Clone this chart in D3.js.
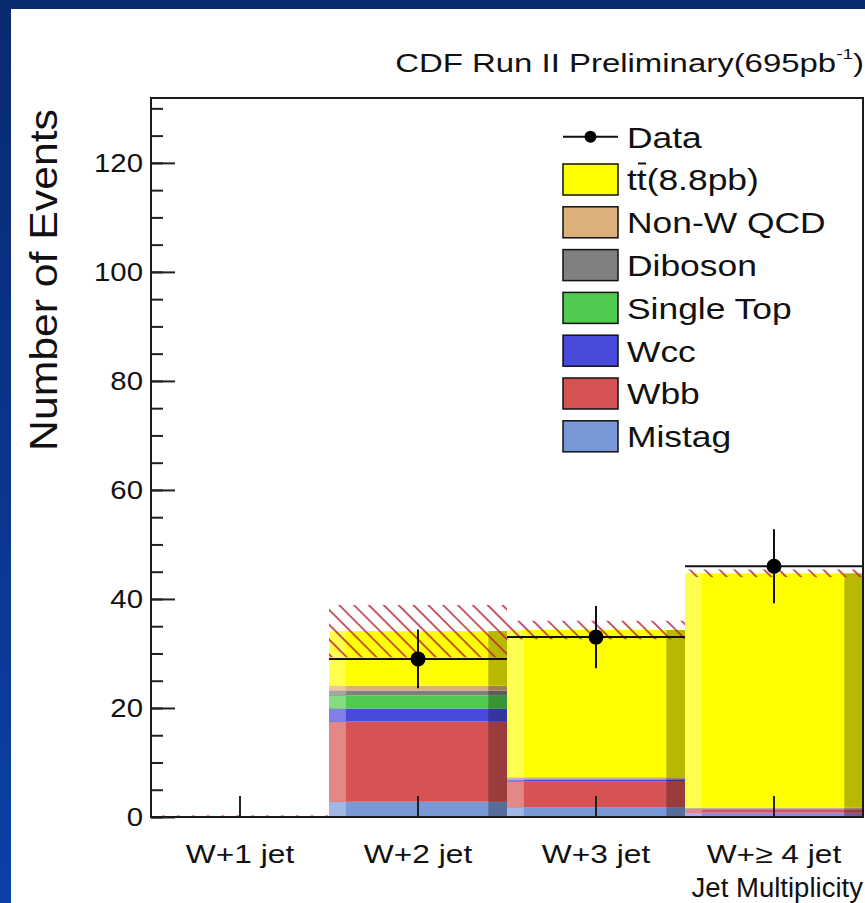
<!DOCTYPE html>
<html>
<head>
<meta charset="utf-8">
<script src="https://cdn.jsdelivr.net/npm/d3@7"></script>
<style>
  html, body { margin: 0; padding: 0; }
  svg { display: block; }
  text { font-family: "Liberation Sans", Arial, Helvetica, sans-serif; fill: #111; }
</style>
</head>
<body>
<svg id="chart" width="865" height="903"></svg>
<script>
// Expected events per jet-multiplicity bin, by process (stacked bottom to top)
const categories = ["W+1 jet", "W+2 jet", "W+3 jet", "W+\u2265 4 jet"];
const mistag     = [0, 2.8, 1.8, 0.8];
const wbb        = [0, 14.7, 4.7, 0.5];
const wcc        = [0, 2.4, 0.3, 0.1];
const singleTop  = [0, 2.4, 0.2, 0.1];
const diboson    = [0, 0.9, 0.1, 0.1];
const nonWQCD    = [0, 0.9, 0.2, 0.1];
const ttbar      = [0, 10.0, 27.0, 43.0];
// Uncertainty on the total prediction (hatched band)
const predErr    = [0.3, 4.8, 1.7, 0.7];
// Observed events and their errors
const dataCounts = [0, 29, 33, 46];
const dataErr    = [0, 5.4, 5.7, 6.8];
const yMajorTicks = [0, 20, 40, 60, 80, 100, 120];
const yMinorTicks = [0, 5, 10, 15, 20, 25, 30, 35, 40, 45, 50, 55, 60, 65, 70, 75, 80, 85, 90, 95, 100, 105, 110, 115, 120, 125, 130];

const seriesKeys   = ["mistag", "wbb", "wcc", "singleTop", "diboson", "nonWQCD", "ttbar"];
const seriesLabels = ["Mistag", "Wbb", "Wcc", "Single Top", "Diboson", "Non-W QCD", "tt(8.8pb)"];
const seriesColors = ["#7898d8", "#d75353", "#4a4adc", "#4fcc4f", "#808080", "#dcb07c", "#ffff00"];
const seriesValues = [mistag, wbb, wcc, singleTop, diboson, nonWQCD, ttbar];

const table = categories.map((c, i) => {
  const row = { cat: c };
  seriesKeys.forEach((k, j) => { row[k] = seriesValues[j][i]; });
  row.total = seriesKeys.reduce((s, k) => s + row[k], 0);
  return row;
});

const W = 865, H = 903;
const frame = { left: 151, right: 863, top: 98, bottom: 817 };
const svg = d3.select("#chart");
const defs = svg.append("defs");

// Page background: blue slide with white panel
const grad = defs.append("linearGradient").attr("id", "bg").attr("x1", 0).attr("y1", 0).attr("x2", 0).attr("y2", 1);
grad.append("stop").attr("offset", "0%").attr("stop-color", "#082a70");
grad.append("stop").attr("offset", "100%").attr("stop-color", "#0c40a8");
svg.append("rect").attr("width", W).attr("height", H).attr("fill", "url(#bg)");
svg.append("rect").attr("x", 11).attr("y", 9).attr("width", W - 11).attr("height", H - 9).attr("fill", "#fff");

// Hatch pattern for the prediction uncertainty
defs.append("pattern").attr("id", "hatch").attr("patternUnits", "userSpaceOnUse")
  .attr("width", 10.5).attr("height", 10.5).attr("patternTransform", "rotate(-45)")
  .append("line").attr("x1", 1).attr("y1", 0).attr("x2", 1).attr("y2", 10.5)
  .attr("stroke", "#b82236").attr("stroke-width", 1.5);

defs.append("clipPath").attr("id", "plotclip").append("rect")
  .attr("x", frame.left).attr("y", frame.top)
  .attr("width", frame.right - frame.left).attr("height", frame.bottom - frame.top);

const x = d3.scaleBand().domain(categories).range([frame.left, frame.right]).padding(0);
const y = d3.scaleLinear().domain([0, 131.9]).range([frame.bottom, frame.top]);
const bw = x.bandwidth();

const plot = svg.append("g").attr("clip-path", "url(#plotclip)");

// Stacked bars with light left edge and dark right edge
const stacked = d3.stack().keys(seriesKeys)(table);
const lightW = bw * 0.095, darkW = bw * 0.105;
stacked.forEach((layer, j) => {
  const base = seriesColors[j];
  const light = d3.interpolateRgb(base, "#ffffff")(0.3);
  const dark = d3.interpolateRgb(base, "#000000")(0.28);
  const g = plot.append("g").attr("class", "layer-" + seriesKeys[j]);
  layer.forEach(d => {
    const h = y(d[0]) - y(d[1]);
    if (h <= 0) return;
    const x0 = x(d.data.cat);
    g.append("rect").attr("x", x0).attr("y", y(d[1])).attr("width", bw).attr("height", h).attr("fill", base);
    g.append("rect").attr("x", x0).attr("y", y(d[1])).attr("width", lightW).attr("height", h).attr("fill", light);
    g.append("rect").attr("x", x0 + bw - darkW).attr("y", y(d[1])).attr("width", darkW).attr("height", h).attr("fill", dark);
  });
});

// Uncertainty band on the total prediction
plot.append("g").selectAll("rect").data(table).join("rect")
  .attr("x", d => x(d.cat))
  .attr("y", (d, i) => y(d.total + predErr[i]))
  .attr("width", bw)
  .attr("height", (d, i) => y(d.total - predErr[i]) - y(d.total + predErr[i]))
  .attr("fill", "url(#hatch)");

// Data: horizontal bin line, vertical error bar, filled marker
const dataG = plot.append("g");
categories.forEach((c, i) => {
  if (dataCounts[i] <= 0) return;
  const cx = x(c) + bw / 2, cy = y(dataCounts[i]);
  dataG.append("line").attr("x1", x(c)).attr("x2", x(c) + bw).attr("y1", cy).attr("y2", cy)
    .attr("stroke", "#111").attr("stroke-width", 2);
  dataG.append("line").attr("x1", cx).attr("x2", cx)
    .attr("y1", y(dataCounts[i] - dataErr[i])).attr("y2", y(dataCounts[i] + dataErr[i]))
    .attr("stroke", "#111").attr("stroke-width", 2);
  dataG.append("circle").attr("cx", cx).attr("cy", cy).attr("r", 7.5).attr("fill", "#000");
});

// Axes
const SX = 1.15;
const yMinor = d3.axisLeft(y).tickValues(yMinorTicks).tickSizeInner(-12).tickSizeOuter(0).tickFormat("");
const yMajor = d3.axisLeft(y).tickValues(yMajorTicks).tickSizeInner(-24).tickSizeOuter(0).tickPadding(7);
const gyMin = svg.append("g").attr("transform", `translate(${frame.left},0)`).call(yMinor);
const gyMaj = svg.append("g").attr("transform", `translate(${frame.left},0)`).call(yMajor);
[gyMin, gyMaj].forEach(g => {
  g.select(".domain").remove();
  g.selectAll(".tick line").attr("stroke", "#222").attr("stroke-width", 2);
});
gyMaj.selectAll(".tick text").attr("font-size", 25.5).attr("fill", "#111")
  .attr("transform", `scale(${SX},1)`);

const xAxis = d3.axisBottom(x).tickSizeInner(-21).tickSizeOuter(0).tickPadding(28);
const gx = svg.append("g").attr("transform", `translate(0,${frame.bottom})`).call(xAxis);
gx.select(".domain").remove();
gx.selectAll(".tick line").attr("stroke", "#222").attr("stroke-width", 2);
gx.selectAll(".tick text").attr("font-size", 26).attr("fill", "#111")
  .attr("transform", `scale(1.22,1)`);

// Frame
svg.append("rect").attr("x", frame.left).attr("y", frame.top)
  .attr("width", frame.right - frame.left).attr("height", frame.bottom - frame.top)
  .attr("fill", "none").attr("stroke", "#1a1a1a").attr("stroke-width", 2);

// Text helper: place text at (px, py) and stretch horizontally to a target width
function fitText(sel, px, py, targetW) {
  const w = sel.node().getBBox().width;
  sel.attr("transform", `translate(${px},${py}) scale(${targetW / w},1)`);
}

// Title
const title = svg.append("text").attr("font-size", 26).attr("text-anchor", "end");
title.append("tspan").text("CDF Run II Preliminary(695pb");
title.append("tspan").attr("font-size", 15).attr("dy", -13).text("-1");
title.append("tspan").attr("dy", 13).text(")");
fitText(title, 864, 72, 469);

// Axis titles
const yTitle = svg.append("text").attr("font-size", 38).attr("text-anchor", "middle").text("Number of Events");
{
  const w = yTitle.node().getBBox().width;
  yTitle.attr("transform", `translate(57,280) rotate(-90) scale(${342 / w},1)`);
}
const xTitle = svg.append("text").attr("font-size", 27).attr("text-anchor", "end").text("Jet Multiplicity");
fitText(xTitle, 863, 897, 172);

// Legend
const legend = svg.append("g");
const legX = 563, legBoxW = 55, legBoxH = 31, legTop = 136.7, legStep = 42.8;
legend.append("line").attr("x1", legX).attr("x2", legX + legBoxW).attr("y1", legTop).attr("y2", legTop)
  .attr("stroke", "#111").attr("stroke-width", 2);
legend.append("circle").attr("cx", legX + legBoxW / 2).attr("cy", legTop).attr("r", 6).attr("fill", "#000");
const dataLab = legend.append("text").attr("font-size", 30).text("Data");
dataLab.attr("transform", `translate(627,${legTop + 10.8}) scale(1.18,1)`);

const legOrder = d3.range(seriesKeys.length).reverse();
legOrder.forEach((j, r) => {
  const cy = legTop + legStep * (r + 1);
  legend.append("rect").attr("x", legX).attr("y", cy - legBoxH / 2).attr("width", legBoxW).attr("height", legBoxH)
    .attr("fill", seriesColors[j]).attr("stroke", "#111").attr("stroke-width", 1.5);
  const t = legend.append("text").attr("font-size", 30).text(seriesLabels[j]);
  t.attr("transform", `translate(627,${cy + 10.8}) scale(1.18,1)`);
  if (seriesKeys[j] === "ttbar") {
    // bar over the second t (anti-top)
    const n = t.node();
    const x0 = n.getSubStringLength(0, 1), w1 = n.getSubStringLength(1, 1);
    legend.append("line")
      .attr("x1", 627 + (x0 + 1) * 1.18).attr("x2", 627 + (x0 + w1 - 0.5) * 1.18)
      .attr("y1", cy - 16).attr("y2", cy - 16)
      .attr("stroke", "#111").attr("stroke-width", 2);
  }
});
</script>
</body>
</html>
